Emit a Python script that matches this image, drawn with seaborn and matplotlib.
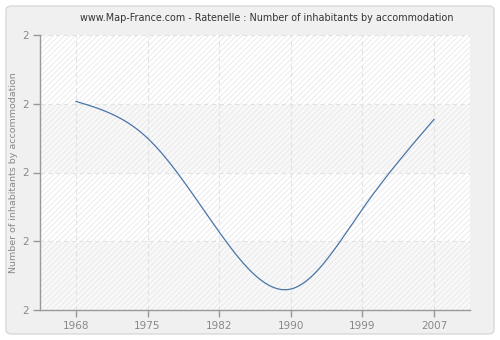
import numpy as np
import pandas as pd
import matplotlib
matplotlib.use("Agg")
import matplotlib.pyplot as plt
from matplotlib.patches import FancyBboxPatch, Rectangle
from matplotlib.ticker import FuncFormatter, FixedLocator
import seaborn as sns

years = ["1968", "1975", "1982", "1990", "1999", "2007"]
values = [2.207, 2.100, 1.827, 1.661, 1.894, 2.155]
y_ticks = [1.6, 1.8, 2.0, 2.2, 2.4]
title = "www.Map-France.com - Ratenelle : Number of inhabitants by accommodation"
ylabel = "Number of inhabitants by accommodation"


def natural_spline(xs, ys, n=60):
    xs = np.asarray(xs, float)
    ys = np.asarray(ys, float)
    m = len(xs)
    h = np.diff(xs)
    A = np.zeros((m, m))
    r = np.zeros(m)
    A[0, 0] = 1
    A[-1, -1] = 1
    for i in range(1, m - 1):
        A[i, i - 1] = h[i - 1]
        A[i, i] = 2 * (h[i - 1] + h[i])
        A[i, i + 1] = h[i]
        r[i] = 3 * ((ys[i + 1] - ys[i]) / h[i] - (ys[i] - ys[i - 1]) / h[i - 1])
    c = np.linalg.solve(A, r)
    outx, outy = [], []
    for i in range(m - 1):
        b = (ys[i + 1] - ys[i]) / h[i] - h[i] * (2 * c[i] + c[i + 1]) / 3
        d = (c[i + 1] - c[i]) / (3 * h[i])
        t = np.linspace(0, h[i], n, endpoint=(i == m - 2))
        outx.extend(xs[i] + t)
        outy.extend(ys[i] + b * t + c[i] * t ** 2 + d * t ** 3)
    return np.array(outx), np.array(outy)


sns.set_theme(style="white")
plt.rcParams['font.family'] = ['DejaVu Sans']
plt.rcParams['hatch.linewidth'] = 0.5
plt.rcParams['hatch.color'] = "#e4e4e4"

fig = plt.figure(figsize=(5, 3.4), dpi=100)
fig.patch.set_facecolor("white")
panel = FancyBboxPatch((6 / 500, 6 / 340), 488 / 500, 328 / 340,
                       boxstyle="round,pad=0,rounding_size=0.012",
                       transform=fig.transFigure, facecolor="#f0f0f0",
                       edgecolor="#d9d9d9", linewidth=1, zorder=-10)
fig.patches.append(panel)

ax = fig.add_axes([40 / 500, 30 / 340, 430 / 500, 275 / 340])
ax.set_zorder(1)
ax.set_facecolor("white")

xpos = np.arange(len(years))
ax.set_xlim(-0.5, len(years) - 0.5)
ax.set_ylim(y_ticks[0], y_ticks[-1])

# background bands and hatching
for k in range(len(y_ticks) - 1):
    if k % 2 == 0:
        ax.axhspan(y_ticks[k], y_ticks[k + 1], facecolor="#f8f8f8", zorder=0)
hatch = Rectangle((0, 0), 1, 1, transform=ax.transAxes, facecolor="none",
                  edgecolor="#e4e4e4", hatch="//////", linewidth=0, zorder=0.5)
ax.add_patch(hatch)

cx, cy = natural_spline(xpos, values)
df = pd.DataFrame({"x": cx, "y": cy})
sns.lineplot(data=df, x="x", y="y", ax=ax, sort=False, color="#4a74a8",
             linewidth=0.9, zorder=3)

ax.xaxis.set_major_locator(FixedLocator(xpos))
ax.set_xticklabels(years)
ax.yaxis.set_major_locator(FixedLocator(y_ticks))
ax.yaxis.set_major_formatter(FuncFormatter(lambda v, p: f"{v:.0f}"))

ax.grid(True, color="#e2e2e2", linestyle=(0, (4, 3)), linewidth=0.8, zorder=1)
ax.set_axisbelow(True)

for s in ["top", "right"]:
    ax.spines[s].set_visible(False)
for s in ["left", "bottom"]:
    ax.spines[s].set_color("#999999")
    ax.spines[s].set_linewidth(1)

ax.tick_params(axis="both", which="major", direction="out", length=5, width=1,
               color="#999999", labelcolor="#888888", labelsize=7.5, pad=3,
               bottom=True, left=True)
ax.set_xlabel("")
ax.set_ylabel(ylabel, color="#888888", fontsize=6.8)
ax.yaxis.set_label_coords(-22 / 430, 0.5)

fig.text(0.5 + 17 / 500, 1 - 18 / 340, title, ha="center", va="center",
         fontsize=6.9, color="#333333")

fig.savefig("out.png", dpi=100)
